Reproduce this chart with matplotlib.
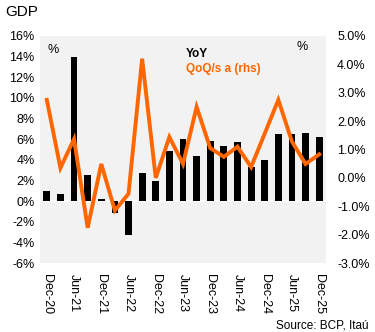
import matplotlib
matplotlib.use("Agg")
import matplotlib.pyplot as plt
import numpy as np

plt.rcParams['font.family'] = ['Liberation Sans', 'DejaVu Sans']

quarters = ["Dec-20", "Mar-21", "Jun-21", "Sep-21", "Dec-21", "Mar-22", "Jun-22", "Sep-22",
            "Dec-22", "Mar-23", "Jun-23", "Sep-23", "Dec-23", "Mar-24", "Jun-24", "Sep-24",
            "Dec-24", "Mar-25", "Jun-25", "Sep-25", "Dec-25"]
yoy = [1.0, 0.65, 14.0, 2.5, 0.2, -1.2, -3.3, 2.7, 1.9, 4.9, 6.0, 4.4, 5.8, 5.3, 5.7, 3.3,
       4.0, 6.5, 6.5, 6.6, 6.2]
qoq = [2.75, 0.35, 1.37, -1.76, 0.49, -1.15, -0.56, 4.2, 0.0, 1.44, 0.49, 2.5, 1.05, 0.74,
       1.1, 0.38, 1.56, 2.75, 1.28, 0.49, 0.83]
left_ticks = list(range(-6, 17, 2))
right_ticks = [-3, -2, -1, 0, 1, 2, 3, 4, 5]

fig = plt.figure(figsize=(3.75, 3.32), dpi=100)
ax = fig.add_axes([40/375, 1-263/332, (326-40)/375, (263-36)/332])
ax.set_facecolor('#f2f2f2')
x = np.arange(len(quarters))
ax.bar(x, yoy, width=0.5, color='black', zorder=2)
ax.axhline(0, color='white', lw=1.2, zorder=1)
ax.set_ylim(-6, 16)
ax.set_yticks(left_ticks)
ax.set_yticklabels([f"{t}%" for t in left_ticks])
ax.set_xlim(-0.5, 20.5)
ax.set_xticks(x[::2])
ax.set_xticklabels(quarters[::2], rotation=-90, ha='center', va='top')
for s in ax.spines.values():
    s.set_visible(False)
ax.tick_params(length=0, labelsize=9, pad=4)
ax.tick_params(axis='x', pad=8)

ax2 = ax.twinx()
ax2.plot(x, qoq, color='#ff6600', lw=2.8, zorder=3, solid_joinstyle='miter')
ax2.set_ylim(-3, 5)
ax2.set_yticks(right_ticks)
ax2.set_yticklabels([f"{t:.1f}%" for t in right_ticks])
for s in ax2.spines.values():
    s.set_visible(False)
ax2.tick_params(length=0, labelsize=9, pad=8)

ax.text(0.025, 0.94, "%", transform=ax.transAxes, fontsize=9, va='center', ha='left')
ax.text(0.916, 0.95, "%", transform=ax.transAxes, fontsize=9, va='center', ha='center')
ax.text(0.51, 0.92, "YoY", transform=ax.transAxes, fontsize=8.5, fontweight='bold',
        color='black', va='center', ha='left')
ax.text(0.51, 0.855, "QoQ/s a (rhs)", transform=ax.transAxes, fontsize=8.5, fontweight='bold',
        color='#ff6600', va='center', ha='left')

fig.text(5/375, 1-12/332, "GDP", fontsize=11, va='center', ha='left')
fig.text(368/375, 1-325/332, "Source: BCP, Itaú", fontsize=8.5, va='center', ha='right')

fig.savefig("out.png", dpi=100)
